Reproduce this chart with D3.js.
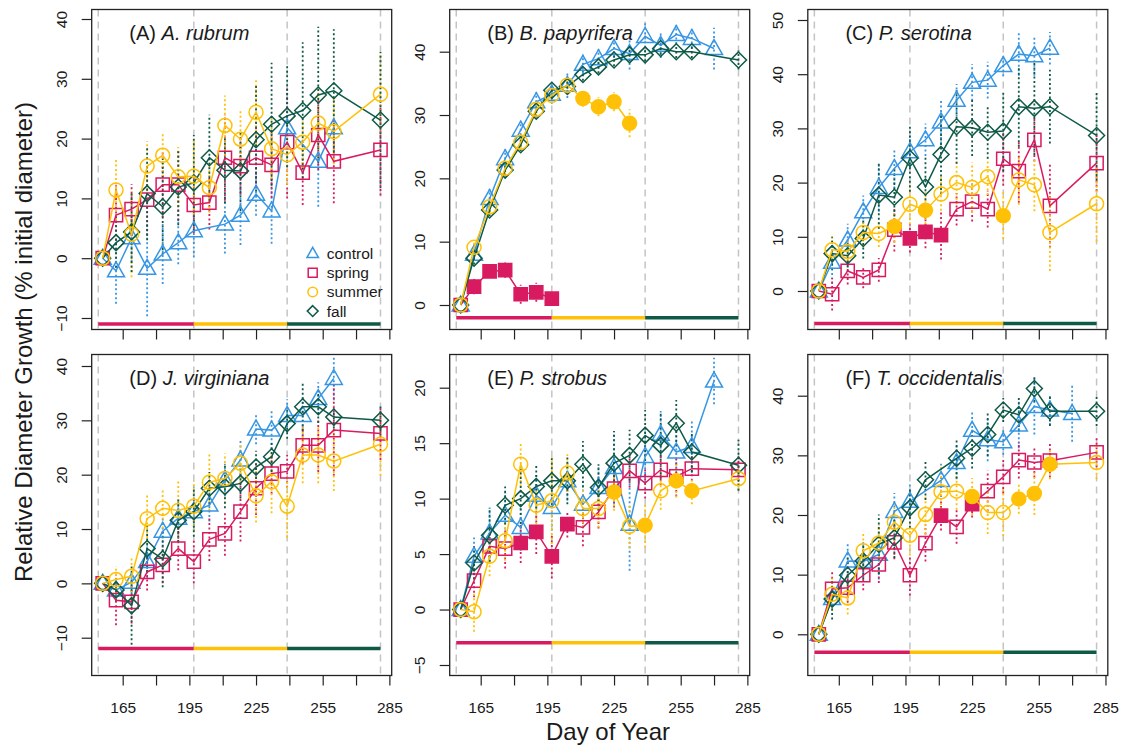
<!DOCTYPE html>
<html>
<head>
<meta charset="utf-8">
<script src="https://cdn.jsdelivr.net/npm/d3@7"></script>
<style>
    body { margin: 0; background: #fff; }
    svg text { font-family: "Liberation Sans", Arial, Helvetica, sans-serif; fill: #1a1a1a; }
</style>
</head>
<body>
<div class="container"></div>
<script>
// measurement days (day of year)
var days = [156, 162, 169, 176, 183, 190, 197, 204, 211, 218, 225, 232, 239, 246, 253, 260, 270, 281];
var periodBreaks = [154, 197, 239, 281];
var periodNames = ['spring', 'summer', 'fall'];
var treatments = ['control', 'spring', 'summer', 'fall'];
var xTickValues = [165, 180, 195, 210, 225, 240, 255, 270, 285];
var xTickLabels = [165, 195, 225, 255, 285];

// (A) A. rubrum
var controlA = [0, -2.1, 3.4, -1.7, 0.7, 2.6, 4.6, null, 5.7, 7.2, 10.7, 7.9, 21.8, null, 16.2, 21.8, null, null];
var springA = [0, 7.2, 8.2, 9.8, 12.3, 12.3, 8.9, 9.3, 16.8, 15.4, 16.8, 15.6, 19.4, 14.3, 20.6, 16.2, null, 18.1];
var summerA = [0, 11.4, 4.0, 15.4, 17.2, 13.6, 13.7, 11.8, 22.2, 19.9, 24.4, 18.3, 17.3, 19.4, 22.6, 21.2, null, 27.4];
var fallA = [0, 2.6, 4.4, 10.8, 8.6, 11.9, 12.6, 16.8, 14.7, 14.6, 19.8, 22.4, 23.8, 24.7, 27.3, 28.0, null, 23.1];
var errControlA = [0, 5.5, 4, 8, 5, 3.6, 4.5, null, 4.9, 5, 3.6, 5.5, 6.5, null, 7.6, 4.7, null, null];
var errSpringA = [0, 5, 4.2, 6, 5.5, 6, 4.7, 4.5, 7.2, 4.7, 5, 5.5, 9.4, 5.4, 5.8, 7, null, 7.6];
var errSummerA = [0, 5.1, 7.2, 4.2, 3.6, 5, 6.4, 4.2, 5, 4.7, 5.5, 5, 5, 4.4, 5.8, 5.5, null, 6.6];
var errFallA = [0, 4.2, 6.7, 7.8, 8, 6.4, 8, 7.2, 5.5, 6.7, 9.4, 10.3, 8.6, 11.4, 11.4, 10.3, null, 11.4];

// (B) B. papyrifera
var controlB = [0, 8, 16.8, 23.1, 27.6, 32.1, 33.3, 34.7, 38.0, 38.9, 40.5, 39.7, 42.4, 41, 42.7, 42.1, 40.5, null];
var springB = [0, 2.9, 5.3, 5.5, 1.7, 2.0, 1.0, null, null, null, null, null, null, null, null, null, null, null];
var summerB = [0, 9.1, 15.5, 21.6, 25.7, 30.9, 33.1, 34.7, 32.6, 31.3, 32.1, 28.7, null, null, null, null, null, null];
var fallB = [0, 7.4, 15, 21.3, 25.3, 30.6, 33.9, 34.5, 36.4, 37.6, 38.7, 39.5, 39.5, 40.5, 40, 40, null, 38.7];
var errControlB = [0, 1, 1.5, 1.5, 1.5, 1.5, 1.5, 2, 1.5, 1.5, 1.5, 2.5, 2.5, 2, 1.5, 1.5, 3.3, null];
var errSpringB = [0, 1.2, 1, 1.2, 1.5, 1.5, 1, null, null, null, null, null, null, null, null, null, null, null];
var errSummerB = [0, 1, 1, 1, 1, 1, 1, 1, 1.3, 1.5, 1.5, 2.2, null, null, null, null, null, null];
var errFallB = [0, 1, 1, 1, 1, 1, 1, 1, 1, 1, 1, 1, 1, 1, 1, 1, null, 1.5];
var sigSpringB = [162, 169, 176, 183, 190, 197];
var sigSummerB = [211, 218, 225, 232];

// (C) P. serotina
var controlC = [0, 5.3, 9.4, 14.6, 19.1, 22.6, 25.7, 27.9, 31.2, 35.2, 38.5, 38.9, 41.6, 43.7, 43.4, 44.8, null, null];
var springC = [0, -0.6, 3.7, 2.5, 3.9, 11.3, 9.7, 10.9, 10.3, 15.1, 16.5, 15.1, 24.4, 22.1, 27.9, 15.7, null, 23.6];
var summerC = [0, 7.6, 7.3, 10.8, 10.6, 11.9, 16.0, 14.9, 17.9, 20.0, 19.1, 21.1, 13.9, 20.5, 19.6, 10.8, null, 16.1];
var fallC = [0, 6.9, 6.5, 9.7, 17.7, 17.3, 24.5, 19.2, 25.2, 30.3, 30.1, 29.3, 29.5, 34.0, 33.7, 34.0, null, 28.7];
var errControlC = [0, 4, 3, 3, 4.5, 3.7, 3, 3, 4, 3, 3.4, 3.4, 2, 4, 3.7, 3, null, null];
var errSpringC = [0, 3, 2.5, 2, 2.2, 4, 2.6, 3, 4.5, 3, 3.7, 3.4, 5, 5.8, 4, 7.7, null, 5.2];
var errSummerC = [0, 2.8, 2.5, 2.5, 2.5, 3, 3.7, 3.4, 3.1, 4, 4.6, 3.4, 4.3, 4.6, 4.9, 7.1, null, 7];
var errFallC = [0, 3, 3, 3.7, 6.2, 5.2, 6.2, 5.8, 7.4, 6.8, 5.2, 4.9, 7.4, 7.4, 8.6, 6.8, null, 8.3];
var sigSpringC = [197, 204, 211];
var sigSummerC = [190, 204, 239];

// (D) J. virginiana
var controlD = [0, -1.2, 0.2, 4.0, 9.6, 12, 13.2, 14.4, 19.0, 22.7, 28.4, 28.2, 30.9, 30.9, 34.0, 37.7, null, null];
var springD = [0, -3.1, -3.4, 2.1, 3.4, 6.4, 4.0, 8.1, 9.2, 13.2, 17.5, 20.2, 20.6, 25.4, 25.4, 28.2, null, 27.6];
var summerD = [0, 0.7, 1.3, 11.9, 13.8, 13.4, 14.2, 18.6, 19.3, 22.1, 16.1, 18.7, 14.2, 23.6, 23.6, 22.5, null, 25.6];
var fallD = [0, -1.2, -4.1, 6.4, 4.5, 11.6, 13.2, 17.5, 17.8, 18.4, 21.4, 23.3, 29.4, 32.5, 32.5, 30.6, null, 30.0];
var errControlD = [0, 2, 2, 3, 3, 3, 3.5, 3, 3, 3.5, 2.8, 3.5, 3, 3.7, 3, 4, null, null];
var errSpringD = [0, 4.6, 4, 3.4, 3.4, 4, 4, 4, 4.1, 5.5, 4.9, 3.7, 3, 3.4, 4.9, 8.4, null, 4.9];
var errSummerD = [0, 2.5, 3.7, 4.4, 3.7, 5.8, 4.6, 5.2, 4.6, 3.7, 4.9, 5.8, 5.8, 5.2, 5.2, 5.5, null, 5.8];
var errFallD = [0, 2.1, 7.2, 4.3, 5.2, 4, 4.6, 3, 4, 2.8, 3, 2.8, 2.8, 4.4, 3, 2.1, null, 2.8];

// (E) P. strobus
var controlE = [0, 4.8, 6.9, 8.5, 7.4, 10.3, 9.2, 11.6, 9.5, 11.0, 12.8, 7.7, 13.8, 15.8, 14.2, 14.7, 20.6, null];
var springE = [0, 2.6, 5.7, 5.5, 6.0, 7.0, 4.8, 7.7, 7.4, 8.8, 10.9, 12.5, 11.4, 12.6, 12.0, 12.7, null, 12.6];
var summerE = [0, -0.2, 4.8, 6.2, 13.1, 9.4, 9.8, 12.3, 9.1, 9.1, 10.6, 7.5, 7.6, 10.7, 11.6, 10.7, null, 11.8];
var fallE = [0, 4.2, 6.7, 9.4, 10.0, 11.1, 11.6, 11.6, 13.1, 11.0, 13.2, 13.9, 15.7, 14.8, 16.8, 14.2, null, 13.0];
var errControlE = [0, 1.7, 2.3, 2.1, 2.1, 2, 2.1, 1.8, 2.1, 2, 3.3, 4.2, 2.4, 2.1, 2.3, 2.4, 2.1, null];
var errSpringE = [0, 1.5, 1.4, 1.8, 1.8, 2, 2, 1.2, 1.7, 1.5, 1.7, 1.5, 1.4, 1.4, 1.8, 1.5, null, 1.4];
var errSummerE = [0, 1.8, 1.8, 1.8, 2, 1.7, 3.9, 1.7, 1.7, 1.7, 1.7, 2, 2, 1.7, 1.5, 1.2, null, 1];
var errFallE = [0, 1.5, 2.4, 1.7, 2.7, 2, 2.2, 2.1, 2.1, 2.1, 2.9, 2.3, 2.3, 3, 2.1, 1.8, null, 2.3];
var sigSpringE = [183, 190, 197, 204];
var sigSummerE = [225, 239, 253, 260];

// (F) T. occidentalis
var controlF = [0, 6.0, 12.3, 12.2, 13.4, 20.6, 22.3, null, 25.8, 28.8, 34.2, 32.6, 32.3, 35.1, 38.2, 37.6, 37.0, null];
var springF = [0, 7.6, 7.8, 9.9, 11.7, 15.4, 9.9, 15.3, 19.9, 18.0, 21.8, 24.0, 26.4, 29.2, 28.8, 29.1, null, 30.5];
var summerF = [0, 6.7, 6.1, 14.0, 15.3, 18.8, 16.6, 20.1, 23.9, 24.0, 23.1, 20.4, 20.4, 22.7, 23.6, 28.5, null, 28.8];
var fallF = [0, 5.9, 9.9, 12.3, 15.1, 16.2, 21.2, 25.9, null, 29.5, 31.2, 33.5, 37.6, 36.8, 41.2, 37.4, null, 37.4];
var errControlF = [0, 2, 2.8, 2.8, 4.2, 3.1, 2.8, null, 2.8, 2.8, 3.4, 3.6, 2.2, 3.9, 4.7, 2.5, 4.7, null];
var errSpringF = [0, 2.8, 2.5, 2.5, 3.1, 2.8, 3.4, 3.1, 2.5, 2.8, 2.2, 3.4, 2.8, 3.1, 2.5, 2.8, null, 2.5];
var errSummerF = [0, 2.8, 2.8, 2.8, 3.1, 3.1, 3.4, 3.4, 4.5, 3.1, 3.1, 3.6, 3.9, 2.5, 3.6, 2.5, null, 2.8];
var errFallF = [0, 3.4, 3.4, 3.1, 5, 3.4, 3.4, 3.4, null, 3.4, 3.4, 3.6, 2, 2.8, 2.2, 2.5, null, 2.5];
var sigSpringF = [211, 225];
var sigSummerF = [225, 246, 253, 260];

var _colors = {control: '#3796e4', spring: '#d81b60', summer: '#ffc107', fall: '#0f5a47'};
var _shapes = {control: 'triangle', spring: 'square', summer: 'circle', fall: 'diamond'};
var _drawOrder = [0, 1, 3, 2];

const WIDTH = 1121;
const HEIGHT = 748;
const PANEL_W = 300;
const PANEL_LEFT = [91.7, 449.7, 807.8];
const PANEL_ROWS = [[9.5, 329.5], [354.5, 675.5]];

var _panels = [
    {tag: '(A) ', species: 'A. rubrum', col: 0, row: 0, yTicks: [-10, 0, 10, 20, 30, 40],
        yRef: [[-10, 318], [40, 19]], barY: -11, legend: true,
        values: [controlA, springA, summerA, fallA],
        errors: [errControlA, errSpringA, errSummerA, errFallA],
        sig: [[], [], [], []]},
    {tag: '(B) ', species: 'B. papyrifera', col: 1, row: 0, yTicks: [0, 10, 20, 30, 40],
        yRef: [[0, 305], [40, 51.7]], barY: -2,
        values: [controlB, springB, summerB, fallB],
        errors: [errControlB, errSpringB, errSummerB, errFallB],
        sig: [[], sigSpringB, sigSummerB, []]},
    {tag: '(C) ', species: 'P. serotina', col: 2, row: 0, yTicks: [0, 10, 20, 30, 40, 50],
        yRef: [[0, 291], [50, 20]], barY: -6,
        values: [controlC, springC, summerC, fallC],
        errors: [errControlC, errSpringC, errSummerC, errFallC],
        sig: [[], sigSpringC, sigSummerC, []]},
    {tag: '(D) ', species: 'J. virginiana', col: 0, row: 1, yTicks: [-10, 0, 10, 20, 30, 40],
        yRef: [[-10, 637.7], [40, 366]], barY: -12,
        values: [controlD, springD, summerD, fallD],
        errors: [errControlD, errSpringD, errSummerD, errFallD],
        sig: [[], [], [], []]},
    {tag: '(E) ', species: 'P. strobus', col: 1, row: 1, yTicks: [-5, 0, 5, 10, 15, 20],
        yRef: [[-5, 665], [20, 387.7]], barY: -3,
        values: [controlE, springE, summerE, fallE],
        errors: [errControlE, errSpringE, errSummerE, errFallE],
        sig: [[], sigSpringE, sigSummerE, []]},
    {tag: '(F) ', species: 'T. occidentalis', col: 2, row: 1, yTicks: [0, 10, 20, 30, 40],
        yRef: [[0, 634.3], [40, 395.7]], barY: -3,
        values: [controlF, springF, summerF, fallF],
        errors: [errControlF, errSpringF, errSummerF, errFallF],
        sig: [[], sigSpringF, sigSummerF, []]}
];

var _svg;

var translate = function (x, y) {
    return 'translate(' + x + ',' + y + ')';
};

var symbolPath = function (shape, s) {
    if (shape === 'triangle') {
        return 'M0,' + (-9 * s) + 'L' + (8.5 * s) + ',' + (6 * s) + 'L' + (-8.5 * s) + ',' + (6 * s) + 'Z';
    }
    if (shape === 'square') {
        var h = 6.6 * s;
        return 'M' + (-h) + ',' + (-h) + 'H' + h + 'V' + h + 'H' + (-h) + 'Z';
    }
    if (shape === 'diamond') {
        var d = 8 * s;
        return 'M0,' + (-d) + 'L' + d + ',0L0,' + d + 'L' + (-d) + ',0Z';
    }
    var r = 7 * s;
    return 'M' + r + ',0A' + r + ',' + r + ' 0 1,1 ' + (-r) + ',0A' + r + ',' + r + ' 0 1,1 ' + r + ',0Z';
};

var drawPanel = function (p) {
    var left = PANEL_LEFT[p.col];
    var right = left + PANEL_W;
    var top = PANEL_ROWS[p.row][0];
    var bottom = PANEL_ROWS[p.row][1];

    // tick 165 sits 31px inside the left edge, 15 days = 33.33px
    var x = d3.scaleLinear().domain([165, 285]).range([left + 31, left + 31 + 266.67]);
    x.domain([x.invert(left), x.invert(right)]).range([left, right]);

    var y = d3.scaleLinear()
        .domain([p.yRef[0][0], p.yRef[1][0]])
        .range([p.yRef[0][1], p.yRef[1][1]]);
    y.domain([y.invert(bottom), y.invert(top)]).range([bottom, top]);

    var g = _svg.append('g');

    // treatment period dividers
    g.selectAll('.divider')
        .data(periodBreaks)
        .enter().append('line')
        .attr('x1', function (d) { return x(d); })
        .attr('x2', function (d) { return x(d); })
        .attr('y1', top)
        .attr('y2', bottom)
        .attr('stroke', '#c4c4c4')
        .attr('stroke-width', 1.5)
        .attr('stroke-dasharray', '7,5');

    // treatment period bars
    g.selectAll('.period')
        .data(periodNames)
        .enter().append('line')
        .attr('x1', function (d, i) { return x(periodBreaks[i]); })
        .attr('x2', function (d, i) { return x(periodBreaks[i + 1]); })
        .attr('y1', y(p.barY))
        .attr('y2', y(p.barY))
        .attr('stroke', function (d) { return _colors[d]; })
        .attr('stroke-width', 3.5);

    // error bars
    treatments.forEach(function (t, k) {
        var pts = [];
        days.forEach(function (d, i) {
            if (p.values[k][i] !== null && p.errors[k][i]) {
                pts.push({day: d, v: p.values[k][i], e: p.errors[k][i]});
            }
        });
        g.selectAll('.err-' + t)
            .data(pts)
            .enter().append('line')
            .attr('x1', function (d) { return x(d.day); })
            .attr('x2', function (d) { return x(d.day); })
            .attr('y1', function (d) { return y(d.v - d.e); })
            .attr('y2', function (d) { return y(d.v + d.e); })
            .attr('stroke', _colors[t])
            .attr('stroke-width', 1.8)
            .attr('stroke-dasharray', '2,2.5');
    });

    var line = d3.line()
        .x(function (d) { return x(d.day); })
        .y(function (d) { return y(d.v); });

    _drawOrder.forEach(function (k) {
        var t = treatments[k];
        var pts = [];
        days.forEach(function (d, i) {
            if (p.values[k][i] !== null) {
                pts.push({day: d, v: p.values[k][i], filled: p.sig[k].indexOf(d) >= 0});
            }
        });

        g.append('path')
            .datum(pts)
            .attr('d', line)
            .attr('fill', 'none')
            .attr('stroke', _colors[t])
            .attr('stroke-width', 1.5);

        g.selectAll('.pt-' + t)
            .data(pts)
            .enter().append('path')
            .attr('transform', function (d) { return translate(x(d.day), y(d.v)); })
            .attr('d', symbolPath(_shapes[t], 1))
            .attr('fill', function (d) { return d.filled ? _colors[t] : 'none'; })
            .attr('stroke', _colors[t])
            .attr('stroke-width', 1.5);
    });

    // axes
    var xAxis = d3.axisBottom(x)
        .tickValues(xTickValues)
        .tickSize(10)
        .tickPadding(16.5)
        .tickFormat(function (d) {
            return (p.row === 1 && xTickLabels.indexOf(d) >= 0) ? d : '';
        });
    var gx = g.append('g').attr('transform', translate(0, bottom)).call(xAxis);
    gx.select('.domain').remove();
    gx.selectAll('line').attr('stroke', '#222').attr('stroke-width', 1.2);
    gx.selectAll('text').attr('font-size', '15.5px').attr('fill', '#1a1a1a');

    var yAxis = d3.axisLeft(y).tickValues(p.yTicks).tickSize(10);
    var gy = g.append('g').attr('transform', translate(left, 0)).call(yAxis);
    gy.select('.domain').remove();
    gy.selectAll('line').attr('stroke', '#222').attr('stroke-width', 1.2);
    gy.selectAll('text')
        .attr('x', 0)
        .attr('dy', '0.35em')
        .attr('text-anchor', 'middle')
        .attr('transform', 'translate(-30,0) rotate(-90)')
        .attr('font-size', '15.5px')
        .attr('fill', '#1a1a1a');

    g.append('rect')
        .attr('x', left)
        .attr('y', top)
        .attr('width', right - left)
        .attr('height', bottom - top)
        .attr('fill', 'none')
        .attr('stroke', '#222')
        .attr('stroke-width', 1.3);

    // panel title
    var title = g.append('text')
        .attr('x', x(168))
        .attr('y', top + 30.5)
        .attr('font-size', '20px');
    title.append('tspan').text(p.tag);
    title.append('tspan').attr('font-style', 'italic').text(p.species);

    if (p.legend) {
        var lg = g.append('g').attr('transform', translate(left + 221, top + 244));
        var rows = lg.selectAll('g')
            .data(treatments)
            .enter().append('g')
            .attr('transform', function (d, i) { return translate(0, i * 19.2); });
        rows.append('path')
            .attr('d', function (d) { return symbolPath(_shapes[d], 0.68); })
            .attr('fill', 'none')
            .attr('stroke', function (d) { return _colors[d]; })
            .attr('stroke-width', 1.5);
        rows.append('text')
            .attr('x', 14)
            .attr('dy', '0.36em')
            .attr('font-size', '15.5px')
            .text(function (d) { return d; });
    }
};

var drawChart = function () {
    _svg = d3.select('.container')
        .append('svg')
        .attr('width', WIDTH)
        .attr('height', HEIGHT);

    _panels.forEach(drawPanel);

    _svg.append('text')
        .attr('transform', translate(23.5, 342) + ' rotate(-90)')
        .attr('text-anchor', 'middle')
        .attr('dy', '0.35em')
        .attr('font-size', '24px')
        .text('Relative Diameter Growth (% initial diameter)');

    _svg.append('text')
        .attr('x', 608)
        .attr('y', 740)
        .attr('text-anchor', 'middle')
        .attr('font-size', '24px')
        .text('Day of Year');
};

window.onload = drawChart;
</script>
</body>
</html>
